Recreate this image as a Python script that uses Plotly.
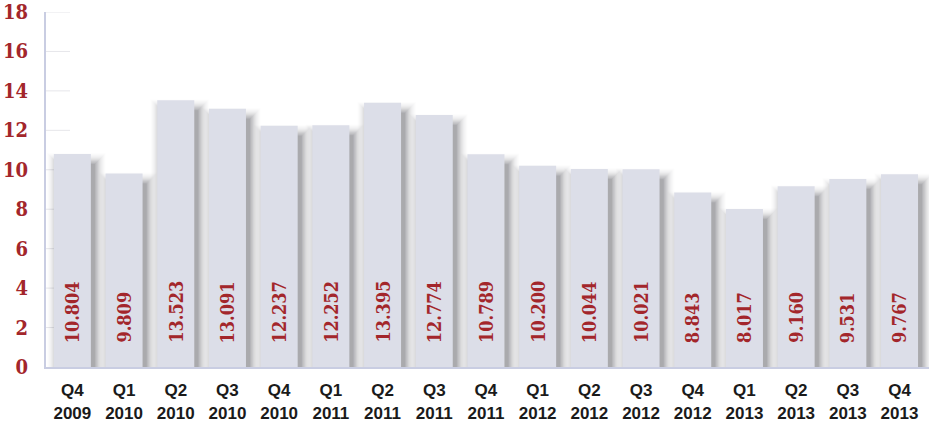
import plotly.graph_objects as go

# Quarterly values
quarters = ["Q4", "Q1", "Q2", "Q3", "Q4", "Q1", "Q2", "Q3", "Q4",
            "Q1", "Q2", "Q3", "Q4", "Q1", "Q2", "Q3", "Q4"]
years = ["2009", "2010", "2010", "2010", "2010", "2011", "2011", "2011", "2011",
         "2012", "2012", "2012", "2012", "2013", "2013", "2013", "2013"]
values = [10.804, 9.809, 13.523, 13.091, 12.237, 12.252, 13.395, 12.774, 10.789,
          10.200, 10.044, 10.021, 8.843, 8.017, 9.160, 9.531, 9.767]
y_ticks = [0, 2, 4, 6, 8, 10, 12, 14, 16, 18]

RED = "#a3262b"
BAR = "#dcdee8"
AXIS = "#c9cde2"
SERIF = "DejaVu Serif Condensed, DejaVu Serif"

W, H = 929, 425
ML, MR, MT, MB = 46, 0, 12, 58
x_range = [-0.51, 16.57]
y_range = [0, 18]
px_x = (x_range[1] - x_range[0]) / (W - ML - MR)   # data units per pixel
px_y = (y_range[1] - y_range[0]) / (H - MT - MB)

bar_w = 0.716
xs = list(range(len(values)))

fig = go.Figure()

# soft drop shadow: translucent rectangles that grow outward from an
# offset core, so the shade is darkest next to the bar's right edge
dx, dy = 4, 10
alphas = [0.075, 0.065, 0.055, 0.048, 0.042, 0.036, 0.03, 0.025, 0.02, 0.015, 0.01, 0.008]
for s, a in enumerate(alphas):
    base = -(3 + s) * px_y
    fig.add_trace(go.Bar(
        x=[x + dx * px_x for x in xs],
        y=[v - (dy - s) * px_y - base for v in values],
        base=[base] * len(values),
        width=[bar_w + 2 * s * px_x] * len(values),
        marker=dict(color=f"rgba(30,30,40,{a})", line=dict(width=0)),
        hoverinfo="skip", showlegend=False,
    ))

# main bars
fig.add_trace(go.Bar(
    x=xs, y=values, width=[bar_w] * len(values),
    marker=dict(color=BAR, line=dict(width=0)),
    hoverinfo="skip", showlegend=False,
))

# value labels inside the bars
for x, v in zip(xs, values):
    fig.add_annotation(
        x=x, y=0, text=f"{v:.3f}", showarrow=False, textangle=-90,
        xanchor="center", yanchor="bottom", yshift=22,
        font=dict(family=SERIF, size=18, color=RED, weight=900),
    )

# short gridline stubs next to the value axis
for t in y_ticks[1:]:
    fig.add_shape(type="line", xref="paper", yref="y", x0=0, x1=24 / (W - ML - MR),
                  y0=t, y1=t, line=dict(color="#e6e6ea", width=1), layer="below")

fig.update_layout(
    width=W, height=H, margin=dict(l=ML, r=MR, t=MT, b=MB, autoexpand=False),
    paper_bgcolor="white", plot_bgcolor="white",
    barmode="overlay", showlegend=False,
    xaxis=dict(range=x_range, tickvals=xs, automargin=False,
               ticktext=[f"{q}<br>{y}" for q, y in zip(quarters, years)],
               showgrid=False, zeroline=False, showline=True, linecolor=AXIS, linewidth=2,
               ticks="", ticklabelstandoff=7,
               tickfont=dict(family="Liberation Sans, Arial", size=17, color="#1a1a1a", weight=700)),
    yaxis=dict(range=y_range, tickvals=y_ticks,
               automargin=False, showgrid=False, zeroline=False,
               showline=True, linecolor=AXIS, linewidth=2, ticks="", ticklabelstandoff=12,
               tickfont=dict(family=SERIF, size=20, color=RED, weight=900)),
)

fig.write_html("out.html")
